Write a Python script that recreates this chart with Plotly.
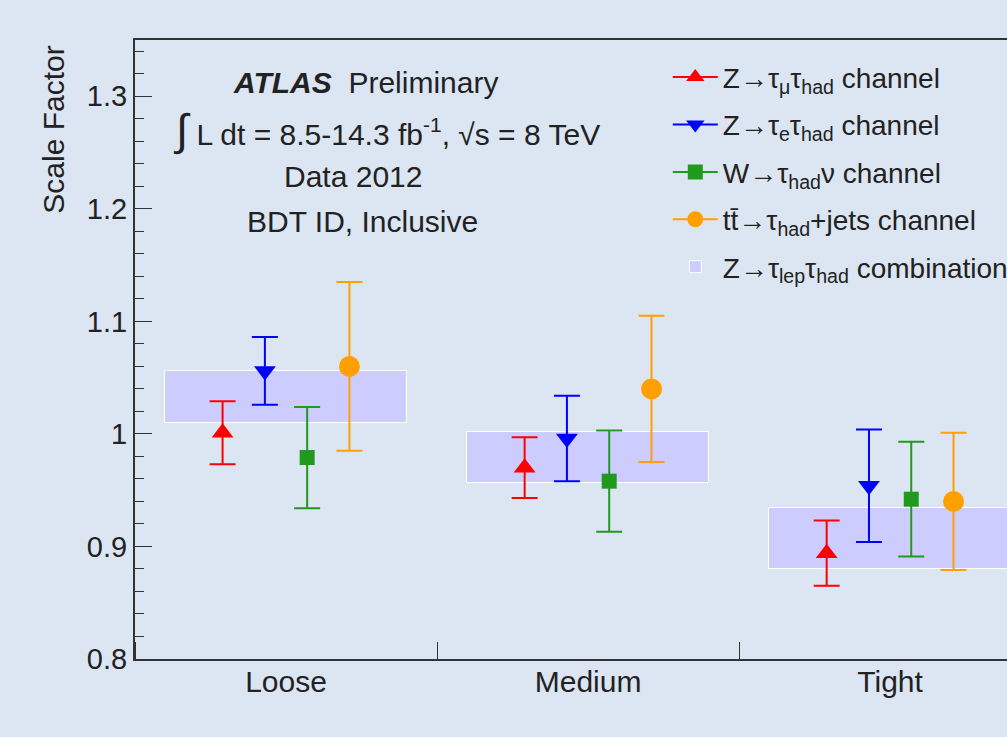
import plotly.graph_objects as go

categories = ["Loose", "Medium", "Tight"]
tick_labels_y = ["0.8", "0.9", "1", "1.1", "1.2", "1.3"]
tick_vals_y = [0.8, 0.9, 1.0, 1.1, 1.2, 1.3]

mu_val = [1.001, 0.970, 0.894]
mu_err = [0.028, 0.027, 0.029]
e_val = [1.056, 0.996, 0.954]
e_err = [0.030, 0.038, 0.050]
w_val = [0.979, 0.958, 0.942]
w_err = [0.045, 0.045, 0.051]
tt_val = [1.060, 1.040, 0.940]
tt_err = [0.075, 0.065, 0.061]
comb_val = [1.033, 0.979, 0.907]
comb_err = [0.023, 0.023, 0.027]

BG = "#dce6f2"
FONT = "Liberation Sans, Arial, sans-serif"

fig = go.Figure()


def gapped(seq):
    out = []
    for i, v in enumerate(seq):
        if i:
            out.append(None)
        out.append(v)
    return out


def add_channel(name, vals, errs, offset, color, symbol, size, group):
    xs = [i + 0.5 + offset for i in range(len(categories))]
    fig.add_trace(go.Scatter(
        x=gapped(xs), y=gapped(vals), name=name, legendgroup=group,
        mode="lines+markers",
        line=dict(color=color, width=2),
        marker=dict(color=color, symbol=symbol, size=size, line=dict(width=0)),
        error_y=dict(type="data", array=gapped(errs), color=color, thickness=2, width=13),
    ))


add_channel("Z\u2192\u03c4<sub>\u03bc</sub>\u03c4<sub>had</sub> channel", mu_val, mu_err, -0.21, "#ff0000", "triangle-up", 19, "g1")
add_channel("Z\u2192\u03c4<sub>e</sub>\u03c4<sub>had</sub> channel", e_val, e_err, -0.07, "#0000ff", "triangle-down", 19, "g2")
add_channel("W\u2192\u03c4<sub>had</sub>\u03bd channel", w_val, w_err, 0.07, "#1f9a1f", "square", 15, "g3")
add_channel("tt\u0304\u2192\u03c4<sub>had</sub>+jets channel", tt_val, tt_err, 0.21, "#ffa000", "circle", 21, "g4")

fig.add_trace(go.Bar(
    x=[i + 0.5 for i in range(len(categories))],
    y=[2 * e for e in comb_err],
    base=[v - e for v, e in zip(comb_val, comb_err)],
    width=0.8, legendgroup="g5",
    name="Z\u2192\u03c4<sub>lep</sub>\u03c4<sub>had</sub> combination",
    marker=dict(color="#ccccff", line=dict(color="white", width=1)),
))

fig.update_layout(
    width=1007, height=737,
    paper_bgcolor=BG, plot_bgcolor=BG,
    margin=dict(l=135, r=0, t=40, b=78, autoexpand=False),
    font=dict(family=FONT, color="#222222", size=30),
    showlegend=True,
    legend=dict(x=0.611, y=0.98, xanchor="left", yanchor="top",
                bgcolor="rgba(0,0,0,0)", font=dict(size=28), itemwidth=45,
                tracegroupgap=8),
    bargap=0,
)

fig.update_xaxes(
    range=[0, 2.887],
    tickmode="array", tickvals=[0.5, 1.5, 2.5], ticktext=categories,
    ticks="", showgrid=False, zeroline=False,
    showline=True, linecolor="#333333", linewidth=2, mirror=True,
    tickfont=dict(size=30),
    minor=dict(tickmode="linear", tick0=0, dtick=1, ticks="inside", ticklen=17,
               tickcolor="#333333", tickwidth=1, showgrid=False),
)
try:
    fig.update_xaxes(ticklabelstandoff=-5)
except Exception:
    pass

fig.update_yaxes(
    range=[0.8, 1.35],
    tickmode="array", tickvals=tick_vals_y, ticktext=tick_labels_y,
    ticks="inside", ticklen=17, tickwidth=1, tickcolor="#333333",
    showgrid=False, zeroline=False,
    showline=True, linecolor="#333333", linewidth=2,
    tickfont=dict(size=29),
    minor=dict(tickmode="linear", tick0=0.8, dtick=0.02, ticks="inside", ticklen=9,
               tickcolor="#333333", tickwidth=1, showgrid=False),
)

annos = [
    dict(text="Scale Factor", x=-0.093, y=0.855, textangle=-90, font=dict(size=30)),
    dict(text="<b><i>ATLAS</i></b>  Preliminary", x=0.264, y=0.932),
    dict(text="<span style='font-size:44px'>\u222b</span> L dt = 8.5-14.3 fb<sup>-1</sup>, \u221as = 8 TeV", x=0.288, y=0.855),
    dict(text="Data 2012", x=0.25, y=0.779),
    dict(text="BDT ID, Inclusive", x=0.261, y=0.706),
]
for a in annos:
    fig.add_annotation(xref="paper", yref="paper", showarrow=False,
                       xanchor="center", yanchor="middle", **a)

fig.write_html(
    "out.html",
    config={"displayModeBar": False},
    post_script="document.body.style.margin='0';document.body.style.padding='0';"
                "document.body.style.background='#dce6f2';"
                "document.body.style.overflow='hidden';",
)
